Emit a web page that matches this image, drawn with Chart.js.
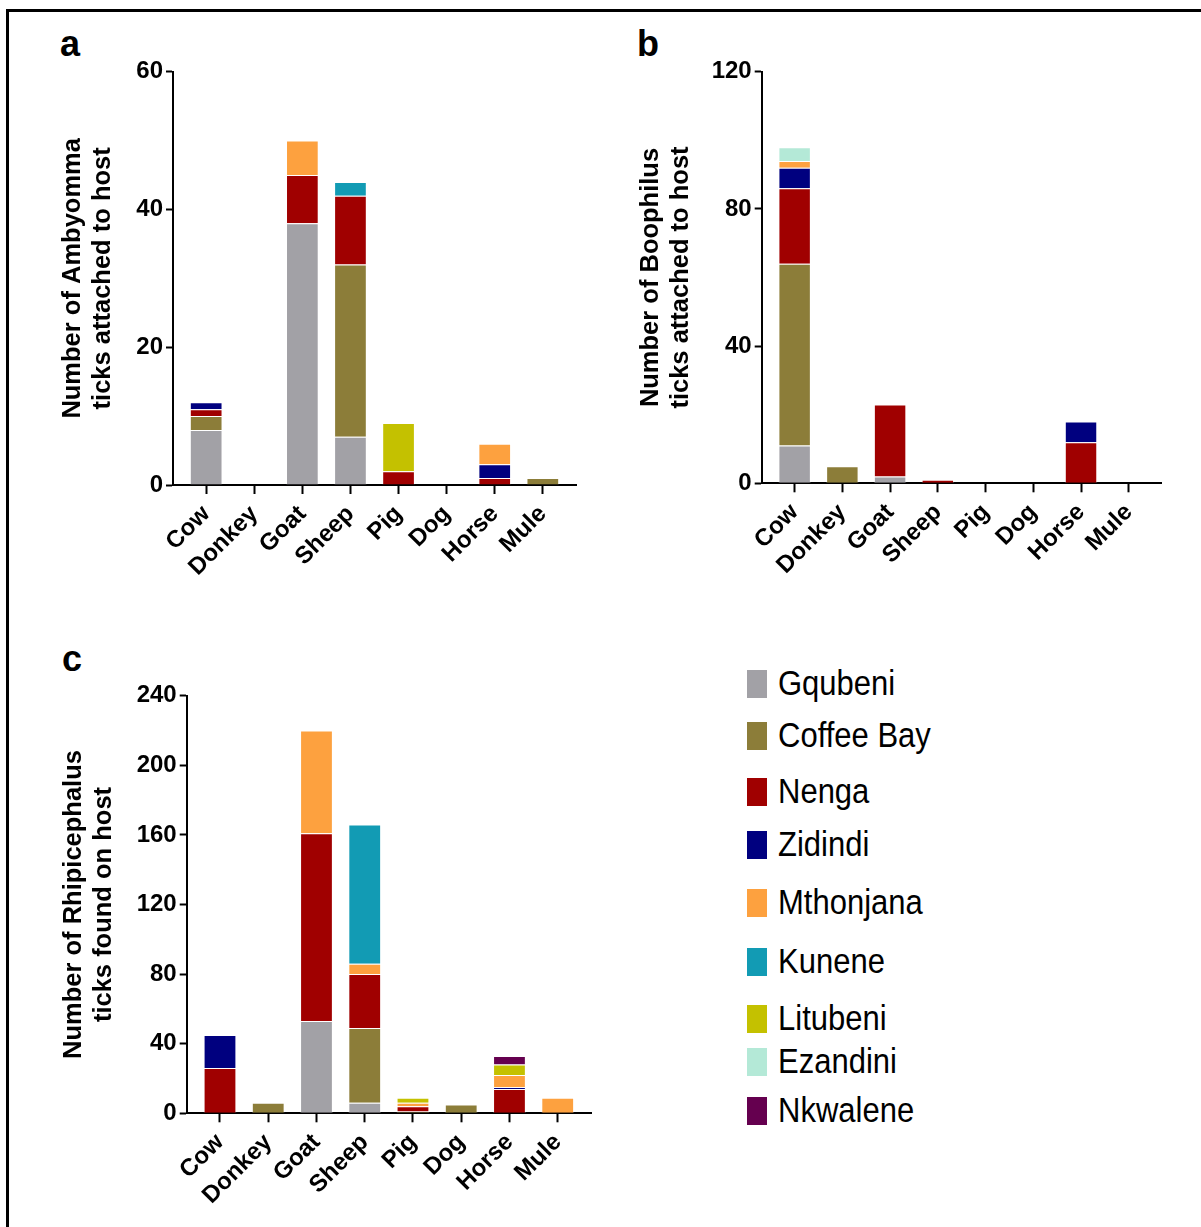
<!DOCTYPE html>
<html>
<head>
<meta charset="utf-8">
<script src="https://cdn.jsdelivr.net/npm/chart.js@4.4.1/dist/chart.umd.min.js"></script>
<style>
html,body{margin:0;padding:0;background:#fff;width:1201px;height:1227px;overflow:hidden;
  font-family:"Liberation Sans",Arial,Helvetica,sans-serif;}
#frame{position:absolute;left:6px;top:9px;width:1400px;height:1400px;border-left:3px solid #000;border-top:3px solid #000;}
.box{position:absolute;}
.box canvas{display:block;}
.panel{position:absolute;font-weight:bold;font-size:36px;line-height:36px;color:#000;}
.item{position:absolute;left:747px;height:28px;display:flex;align-items:center;}
.sw{width:20px;height:28px;flex:none;}
.lab{margin-left:11px;font-size:31px;line-height:28px;color:#000;white-space:nowrap;transform:scaleY(1.12);transform-origin:left center;}
</style>
</head>
<body>
<div id="frame"></div>
<div class="panel" style="left:60px;top:26px;">a</div>
<div class="panel" style="left:637px;top:26px;">b</div>
<div class="panel" style="left:62px;top:641px;">c</div>
<div class="box" style="left:0;top:0;width:600px;height:620px;"><canvas id="ca" width="600" height="620"></canvas></div>
<div class="box" style="left:600px;top:0;width:601px;height:620px;"><canvas id="cb" width="601" height="620"></canvas></div>
<div class="box" style="left:0;top:620px;width:620px;height:607px;"><canvas id="cc" width="620" height="607"></canvas></div>
<div id="legend"></div>
<script>
// ---------- DATA ----------
const CATEGORIES = ['Cow','Donkey','Goat','Sheep','Pig','Dog','Horse','Mule'];
const SITES = ['Gqubeni','Coffee Bay','Nenga','Zidindi','Mthonjana','Kunene','Litubeni','Ezandini','Nkwalene'];
const SITE_COLORS = ['#a2a1a6','#8c7d39','#a00000','#00007f','#fda13f','#129bb4','#c4c100','#b4e9d7','#65004f'];

// a: Amblyomma ticks attached to host
const amb_Gqubeni   = [8, 0, 38, 7, 0, 0, 0, 0];
const amb_CoffeeBay = [2, 0, 0, 25, 0, 0, 0, 1];
const amb_Nenga     = [1, 0, 7, 10, 2, 0, 1, 0];
const amb_Zidindi   = [1, 0, 0, 0, 0, 0, 2, 0];
const amb_Mthonjana = [0, 0, 5, 0, 0, 0, 3, 0];
const amb_Kunene    = [0, 0, 0, 2, 0, 0, 0, 0];
const amb_Litubeni  = [0, 0, 0, 0, 7, 0, 0, 0];
const amb_Ezandini  = [0, 0, 0, 0, 0, 0, 0, 0];
const amb_Nkwalene  = [0, 0, 0, 0, 0, 0, 0, 0];
const AMB_TICKS = [0, 20, 40, 60];

// b: Boophilus ticks attached to host
const boo_Gqubeni   = [11, 0, 2, 0, 0, 0, 0, 0];
const boo_CoffeeBay = [53, 5, 0, 0, 0, 0, 0, 0];
const boo_Nenga     = [22, 0, 21, 1, 0, 0, 12, 0];
const boo_Zidindi   = [6, 0, 0, 0, 0, 0, 6, 0];
const boo_Mthonjana = [2, 0, 0, 0, 0, 0, 0, 0];
const boo_Kunene    = [0, 0, 0, 0, 0, 0, 0, 0];
const boo_Litubeni  = [0, 0, 0, 0, 0, 0, 0, 0];
const boo_Ezandini  = [4, 0, 0, 0, 0, 0, 0, 0];
const boo_Nkwalene  = [0, 0, 0, 0, 0, 0, 0, 0];
const BOO_TICKS = [0, 40, 80, 120];

// c: Rhipicephalus ticks found on host
const rhi_Gqubeni   = [0, 0, 53, 6, 0, 0, 0, 0];
const rhi_CoffeeBay = [0, 6, 0, 43, 1, 5, 0, 0];
const rhi_Nenga     = [26, 0, 108, 31, 3, 0, 14, 0];
const rhi_Zidindi   = [19, 0, 0, 0, 0, 0, 1, 0];
const rhi_Mthonjana = [0, 0, 59, 6, 2, 0, 7, 9];
const rhi_Kunene    = [0, 0, 0, 80, 0, 0, 0, 0];
const rhi_Litubeni  = [0, 0, 0, 0, 3, 0, 6, 0];
const rhi_Ezandini  = [0, 0, 0, 0, 0, 0, 0, 0];
const rhi_Nkwalene  = [0, 0, 0, 0, 0, 0, 5, 0];
const RHI_TICKS = [0, 40, 80, 120, 160, 200, 240];

const AMB = [amb_Gqubeni, amb_CoffeeBay, amb_Nenga, amb_Zidindi, amb_Mthonjana, amb_Kunene, amb_Litubeni, amb_Ezandini, amb_Nkwalene];
const BOO = [boo_Gqubeni, boo_CoffeeBay, boo_Nenga, boo_Zidindi, boo_Mthonjana, boo_Kunene, boo_Litubeni, boo_Ezandini, boo_Nkwalene];
const RHI = [rhi_Gqubeni, rhi_CoffeeBay, rhi_Nenga, rhi_Zidindi, rhi_Mthonjana, rhi_Kunene, rhi_Litubeni, rhi_Ezandini, rhi_Nkwalene];

// ---------- LAYOUT / STYLE ----------
const FONT = '"Liberation Sans", Arial, Helvetica, sans-serif';
const LEGEND_CENTERS = [683.5, 735.7, 792, 845, 903, 962, 1019, 1062, 1110.7];

function makeChart(id, series, yTicks, title, L) {
  const datasets = series.map((vals, si) => ({
    label: SITES[si],
    stack: 's',
    backgroundColor: SITE_COLORS[si],
    borderColor: 'rgba(255,255,255,0.35)',
    borderWidth: 1,
    barPercentage: 0.68,
    categoryPercentage: 1,
    data: vals.map((v, i) => ({x: i, y: v === 0 ? null : v}))
  }));
  const axisGrid = (tl) => ({display: true, drawOnChartArea: false, drawTicks: true,
    tickLength: tl, tickWidth: 2, tickColor: '#000'});
  return new Chart(document.getElementById(id), {
    type: 'bar',
    data: {datasets},
    options: {
      responsive: false, animation: false,
      layout: {padding: {top: L.top, right: L.right, left: 0, bottom: 0}},
      plugins: {legend: {display: false}, tooltip: {enabled: false}},
      scales: {
        x: {
          type: 'linear', offset: false, min: -0.69, max: 7.69,
          grid: Object.assign(axisGrid(9), {offset: false}),
          border: {display: true, color: '#000', width: 2},
          afterBuildTicks: s => { s.ticks = CATEGORIES.map((_, i) => ({value: i})); },
          afterFit: s => { s.height = L.xh; },
          ticks: {
            autoSkip: false, minRotation: 45, maxRotation: 45, padding: L.xpad,
            color: '#000', font: {family: FONT, size: 24, weight: 'bold'},
            callback: v => CATEGORIES[v] !== undefined ? CATEGORIES[v] : ''
          }
        },
        y: {
          type: 'linear', stacked: true, min: yTicks[0], max: yTicks[yTicks.length - 1],
          grid: axisGrid(7),
          border: {display: true, color: '#000', width: 2},
          afterBuildTicks: s => { s.ticks = yTicks.map(v => ({value: v})); },
          afterFit: s => { s.width = L.yw; },
          ticks: {padding: 3, color: '#000', font: {family: FONT, size: 24, weight: 'bold'}},
          title: {display: true, text: title, color: '#000',
            font: {family: FONT, size: 25.5, weight: 'bold', lineHeight: 1.18},
            padding: {top: L.tpad, bottom: 0}}
        }
      }
    }
  });
}

makeChart('ca', AMB, AMB_TICKS, ['Number of Ambyomma', 'ticks attached to host'],
  {top: 71.7, right: 24, xh: 135, yw: 173, tpad: 57.5, xpad: 6});
makeChart('cb', BOO, BOO_TICKS, ['Number of Boophilus', 'ticks attached to host'],
  {top: 71.7, right: 39.3, xh: 136.7, yw: 161.7, tpad: 35.5, xpad: 6});
makeChart('cc', RHI, RHI_TICKS, ['Number of Rhipicephalus', 'ticks found on host'],
  {top: 75.7, right: 29, xh: 113.7, yw: 186.7, tpad: 59, xpad: 6});

// HTML legend built from the site names / colours
const leg = document.getElementById('legend');
SITES.forEach((name, i) => {
  const it = document.createElement('div');
  it.className = 'item';
  it.style.top = (LEGEND_CENTERS[i] - 14) + 'px';
  const sw = document.createElement('div');
  sw.className = 'sw';
  sw.style.background = SITE_COLORS[i];
  const lab = document.createElement('div');
  lab.className = 'lab';
  lab.textContent = name;
  it.appendChild(sw); it.appendChild(lab);
  leg.appendChild(it);
});
</script>
</body>
</html>
